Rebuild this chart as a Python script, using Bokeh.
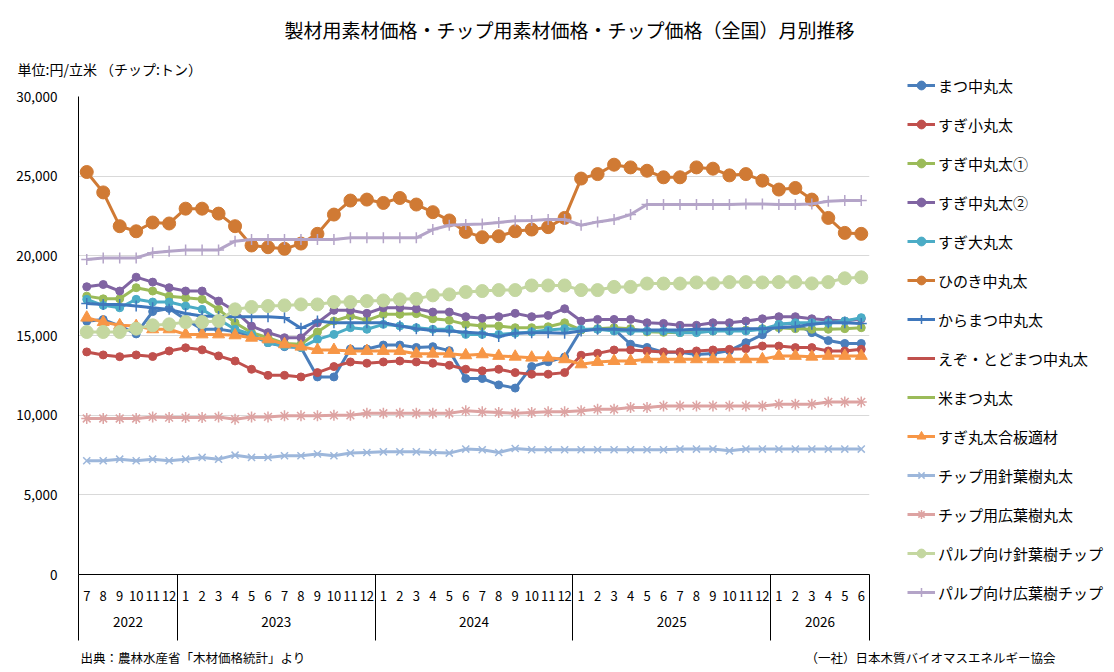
from bokeh.plotting import figure
from bokeh.layouts import row, column
from bokeh.models import (Range1d, FixedTicker, NumeralTickFormatter, Legend, LegendItem,
                          LinearAxis, Title, Label)
from bokeh.embed import file_html
from bokeh.resources import INLINE

FONT = "Noto Sans CJK JP"
NAN = float("nan")

# ---------------- data ----------------
month_labels = ["7", "8", "9", "10", "11", "12",
                "1", "2", "3", "4", "5", "6", "7", "8", "9", "10", "11", "12",
                "1", "2", "3", "4", "5", "6", "7", "8", "9", "10", "11", "12",
                "1", "2", "3", "4", "5", "6", "7", "8", "9", "10", "11", "12",
                "1", "2", "3", "4", "5", "6"]
year_labels = ["2022", "2023", "2024", "2025", "2026"]
year_counts = [6, 12, 12, 12, 6]
y_ticks = [0, 5000, 10000, 15000, 20000, 25000, 30000]

matsu = [15900, 16000, 15600, 15100, 16500, 16700, 16000, 15400, 15400, 15230, 15000, 14550,
         14300, 14250, 12400, 12400, 14150, 14150, 14400, 14400, 14250, 14300, 14050, 12300,
         12300, 11900, 11700, 13050, 13350, 13650, 15350, 15400, 15400, 14450, 14250, 13950,
         13950, 13800, 13870, 14050, 14550, 15050, 15700, 15750, 15180, 14680, 14500, 14500]
sugi_small = [13970, 13780, 13670, 13780, 13680, 14030, 14230, 14100, 13720, 13400, 12880, 12500,
              12500, 12400, 12670, 13050, 13340, 13260, 13340, 13400, 13340, 13260, 13130, 12880,
              12780, 12880, 12670, 12570, 12570, 12670, 13760, 13880, 14090, 14090, 14030, 13970,
              13970, 14030, 14090, 14130, 14170, 14340, 14340, 14240, 14240, 14030, 14030, 14130]
sugi_mid1 = [17470, 17300, 17300, 18000, 17790, 17470, 17370, 17270, 16640, 15800, 15180, 14860,
             14500, 14450, 15220, 15910, 16220, 15950, 16330, 16330, 16370, 16050, 15950, 15700,
             15600, 15600, 15490, 15490, 15550, 15800, 15350, 15430, 15490, 15430, 15230, 15200,
             15180, 15220, 15280, 15340, 15340, 15430, 15490, 15430, 15390, 15390, 15430, 15490]
sugi_mid2 = [18060, 18200, 17790, 18660, 18350, 18000, 17790, 17790, 17160, 16530, 15590, 15180,
             14860, 14860, 15800, 16580, 16580, 16390, 16740, 16740, 16680, 16470, 16470, 16180,
             16080, 16180, 16390, 16180, 16260, 16680, 15910, 16010, 16010, 16010, 15800, 15760,
             15640, 15640, 15800, 15800, 15910, 16050, 16180, 16180, 16050, 15970, 15910, 16050]
sugi_large = [17270, 16890, 16740, 17270, 17100, 17100, 16850, 16640, 16010, 15390, 15070, 14550,
              14340, 14240, 14760, 15070, 15490, 15390, 15700, 15600, 15490, 15390, 15390, 15070,
              15070, 15070, 15140, 15220, 15340, 15430, 15390, 15390, 15280, 15280, 15280, 15280,
              15180, 15180, 15280, 15280, 15280, 15390, 15700, 15800, 15800, 15800, 15910, 16120]
hinoki = [25260, 23980, 21860, 21540, 22090, 22030, 22960, 22960, 22650, 21860, 20650, 20540,
          20440, 20770, 21380, 22590, 23470, 23530, 23320, 23630, 23220, 22740, 22220, 21500,
          21170, 21230, 21540, 21650, 21800, 22380, 24850, 25130, 25720, 25550, 25340, 24930,
          24930, 25550, 25470, 25050, 25130, 24720, 24160, 24260, 23530, 22380, 21440, 21380]
karamatsu = [17010, 16950, 16950, 16850, 16740, 16640, 16380, 16220, 16200, 16180, 16180, 16180,
             16120, 15450, 15910, 15800, 15800, 15800, 15800, 15600, 15420, 15320, 15280, 15200,
             15140, 14930, 15140, 15180, 15180, 15140, 15280, 15390, 15390, 15340, 15340, 15340,
             15340, 15390, 15390, 15390, 15430, 15430, 15490, 15550, 15700, 15800, 15800, 15760]
ezo_todo = [NAN]     # no values published in this period
beimatsu = [NAN]     # no values published in this period
sugi_plywood = [16120, 15840, 15640, 15590, 15390, 15390, 15070, 15070, 15070, 15010, 14860, 14760,
                14450, 14300, 14090, 14090, 14030, 14030, 14030, 14030, 13860, 13860, 13860, 13760,
                13820, 13720, 13670, 13610, 13610, 13510, 13190, 13340, 13400, 13400, 13510, 13510,
                13510, 13510, 13510, 13510, 13510, 13510, 13720, 13720, 13670, 13720, 13720, 13720]
chip_conifer_log = [7140, 7140, 7240, 7140, 7240, 7140, 7240, 7350, 7240, 7490, 7350, 7350,
                    7450, 7450, 7560, 7450, 7620, 7660, 7700, 7700, 7700, 7660, 7620, 7870,
                    7830, 7660, 7910, 7830, 7830, 7830, 7830, 7830, 7830, 7830, 7830, 7830,
                    7870, 7870, 7870, 7760, 7870, 7870, 7870, 7870, 7870, 7870, 7870, 7870]
chip_broadleaf_log = [9790, 9790, 9790, 9790, 9890, 9850, 9850, 9850, 9890, 9750, 9890, 9890,
                      9960, 9960, 9960, 9990, 9990, 10120, 10120, 10120, 10120, 10120, 10120, 10270,
                      10210, 10170, 10120, 10170, 10210, 10210, 10270, 10370, 10370, 10480, 10480, 10580,
                      10580, 10580, 10580, 10580, 10580, 10580, 10690, 10690, 10690, 10830, 10830, 10830]
pulp_conifer_chip = [15220, 15220, 15220, 15430, 15640, 15700, 15840, 15840, 15910, 16640, 16790, 16850,
                     16890, 16950, 16950, 17100, 17100, 17160, 17200, 17270, 17300, 17520, 17580, 17730,
                     17790, 17850, 17850, 18140, 18140, 18140, 17850, 17850, 18050, 18050, 18260, 18260,
                     18260, 18330, 18270, 18350, 18350, 18330, 18350, 18350, 18270, 18350, 18590, 18650]
pulp_broadleaf_chip = [19770, 19870, 19870, 19870, 20190, 20290, 20370, 20370, 20370, 20920, 21020, 21020,
                       21020, 21020, 21020, 21020, 21130, 21130, 21130, 21130, 21130, 21650, 21920, 21960,
                       22000, 22090, 22200, 22220, 22280, 22280, 21920, 22130, 22280, 22590, 23220, 23220,
                       23220, 23220, 23220, 23220, 23260, 23260, 23220, 23220, 23260, 23420, 23470, 23470]

series = [
    ("まつ中丸太", matsu, "#4A7EBB", "circle", 8),
    ("すぎ小丸太", sugi_small, "#C0504D", "circle", 8),
    ("すぎ中丸太①", sugi_mid1, "#9BBB59", "circle", 8),
    ("すぎ中丸太②", sugi_mid2, "#8064A2", "circle", 8),
    ("すぎ大丸太", sugi_large, "#4BACC6", "circle", 8),
    ("ひのき中丸太", hinoki, "#D07A34", "circle", 13),
    ("からまつ中丸太", karamatsu, "#3F77BC", "cross", 11),
    ("えぞ・とどまつ中丸太", ezo_todo, "#C0504D", None, 0),
    ("米まつ丸太", beimatsu, "#9BBB59", None, 0),
    ("すぎ丸太合板適材", sugi_plywood, "#F79646", "triangle", 12),
    ("チップ用針葉樹丸太", chip_conifer_log, "#9DB7DB", "x", 10),
    ("チップ用広葉樹丸太", chip_broadleaf_log, "#DDA3A2", "asterisk", 11),
    ("パルプ向け針葉樹チップ", pulp_conifer_chip, "#C4D7A0", "circle", 13),
    ("パルプ向け広葉樹チップ", pulp_broadleaf_chip, "#B4A4C8", "cross", 11),
]

title_text = "製材用素材価格・チップ用素材価格・チップ価格（全国）月別推移"
unit_text = "単位:円/立米 （チップ:トン）"
source_text = "出典：農林水産省「木材価格統計」より"
credit_text = "（一社）日本木質バイオマスエネルギー協会"

# ---------------- layout constants (canvas px) ----------------
W, H = 1110, 668
FOOT_H = 24
MAIN_W = 880
MAIN_H = H - FOOT_H
SIDE_W = W - MAIN_W
FL, FT, FR, FB = 78, 96, 869, 574
n = len(month_labels)


def draw(fig, xs, vals, color, marker, size):
    rl = fig.line(xs, vals, line_color=color, line_width=3)
    rens = [rl]
    if marker is not None:
        if marker in ("cross", "x", "asterisk"):
            rm = fig.scatter(xs, vals, marker=marker, size=size, line_color=color, line_width=1.5)
        else:
            rm = fig.scatter(xs, vals, marker=marker, size=size, fill_color=color, line_color=color)
        rens.append(rm)
    return rens


def blank_figure(w, h):
    f = figure(width=w, height=h, output_backend="svg", toolbar_location=None,
               title=None, x_axis_type=None, y_axis_type=None,
               x_range=Range1d(0, 1), y_range=Range1d(0, 1),
               min_border=0, min_border_left=0, min_border_right=0,
               min_border_top=0, min_border_bottom=0)
    f.frame_align = False
    f.outline_line_color = None
    f.background_fill_color = "white"
    f.border_fill_color = "white"
    f.xgrid.visible = False
    f.ygrid.visible = False
    return f


# ---------------- main chart ----------------
p = figure(width=MAIN_W, height=MAIN_H, output_backend="svg", toolbar_location=None, title=None,
           x_range=Range1d(-0.5, n - 0.5), y_range=Range1d(y_ticks[0], y_ticks[-1]),
           min_border_left=FL, min_border_top=FT, min_border_right=MAIN_W - FR,
           min_border_bottom=MAIN_H - FB)
p.frame_align = False
p.outline_line_color = None
p.background_fill_color = "white"
p.border_fill_color = "white"

bounds = [-0.5]
for c in year_counts:
    bounds.append(bounds[-1] + c)
centers = [(bounds[i] + bounds[i + 1]) / 2 for i in range(len(year_counts))]

xa = p.xaxis[0]
xa.ticker = FixedTicker(ticks=list(range(n)), minor_ticks=bounds)
xa.major_label_overrides = {i: lab for i, lab in enumerate(month_labels)}
xa.major_tick_in = 0
xa.major_tick_out = 0
xa.major_tick_line_color = None
xa.minor_tick_in = 0
xa.minor_tick_out = 66
xa.minor_tick_line_color = "black"
xa.minor_tick_line_width = 1
xa.axis_line_color = "black"
xa.major_label_standoff = 16 - 66
xa.major_label_text_font = FONT
xa.major_label_text_font_size = "13px"
xa.major_label_text_color = "black"

yr = LinearAxis(ticker=FixedTicker(ticks=centers, minor_ticks=[]),
                major_label_overrides={c: y for c, y in zip(centers, year_labels)},
                major_tick_in=0, major_tick_out=0, major_tick_line_color=None,
                minor_tick_line_color=None, axis_line_color=None,
                major_label_standoff=13, major_label_text_font=FONT,
                major_label_text_font_size="13.5px", major_label_text_color="black")
p.add_layout(yr, "below")

ya = p.yaxis[0]
ya.ticker = FixedTicker(ticks=y_ticks)
ya.formatter = NumeralTickFormatter(format="0,0")
ya.major_tick_in = 0
ya.major_tick_out = 0
ya.major_tick_line_color = None
ya.minor_tick_line_color = None
ya.axis_line_color = "black"
ya.major_label_standoff = 21
ya.major_label_text_font = FONT
ya.major_label_text_font_size = "13.5px"
ya.major_label_text_color = "black"

p.xgrid.visible = False
p.ygrid.ticker = FixedTicker(ticks=y_ticks[1:])
p.ygrid.grid_line_color = "#D9D9D9"
p.ygrid.grid_line_width = 1

p.add_layout(Title(text=unit_text, align="left", offset=17 - FL, standoff=35,
                   text_font=FONT, text_font_size="14px", text_font_style="normal",
                   text_color="black"), "above")
p.add_layout(Title(text=title_text, align="left", offset=284 - FL, standoff=-6,
                   text_font=FONT, text_font_size="19px", text_font_style="normal",
                   text_color="black"), "above")

x = list(range(n))
for name, vals, color, marker, size in series:
    draw(p, x[:len(vals)], vals, color, marker, size)

# ---------------- legend panel ----------------
side = blank_figure(SIDE_W, MAIN_H)
items = []
for name, vals, color, marker, size in series:
    keys = draw(side, [NAN], [NAN], color, marker, size)   # legend keys only
    items.append(LegendItem(label=name, renderers=keys))

legend = Legend(items=items, location=(907 - MAIN_W, MAIN_H - 603), orientation="vertical",
                glyph_width=28, glyph_height=22, label_height=22, spacing=17,
                padding=0, margin=0, label_standoff=3,
                label_text_font=FONT, label_text_font_size="15px", label_text_color="black",
                background_fill_alpha=0, border_line_color=None)
side.add_layout(legend)

# ---------------- footer line ----------------
foot = blank_figure(W, FOOT_H)
foot_y = FOOT_H - (657 - MAIN_H)
foot.add_layout(Label(x=80, y=foot_y, x_units="screen", y_units="screen", text=source_text,
                      text_align="left", text_baseline="middle", text_font=FONT,
                      text_font_size="12.5px", text_color="black"))
foot.add_layout(Label(x=1055, y=foot_y, x_units="screen", y_units="screen", text=credit_text,
                      text_align="right", text_baseline="middle", text_font=FONT,
                      text_font_size="12.5px", text_color="black"))

layout = column(row(p, side, spacing=0), foot, spacing=0)
open("out.html", "w").write(file_html(layout, INLINE))
